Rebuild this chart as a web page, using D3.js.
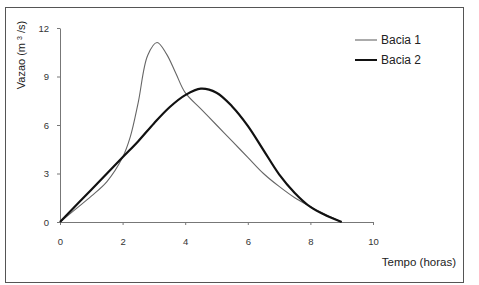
<!DOCTYPE html>
<html>
<head>
<meta charset="utf-8">
<script src="https://cdn.jsdelivr.net/npm/d3@7"></script>
<style>
  body { margin: 0; background: #fff; }
  svg { display: block; }
</style>
</head>
<body>
<div class="chart"></div>
<script>
const width = 479;
const height = 285;

// values
const tempo1 = [0, 0.5, 1, 1.5, 2, 2.25, 2.5, 2.8, 3.1, 3.4, 3.7, 4, 4.5, 5, 5.5, 6, 6.5, 7, 7.5, 8, 8.5, 9];
const bacia1 = [0, 0.8, 1.6, 2.5, 4.0, 5.3, 7.4, 10.3, 11.1, 10.4, 9.2, 8.0, 7.0, 6.0, 5.0, 4.0, 3.0, 2.2, 1.5, 0.95, 0.45, 0];
const tempo2 = [0, 1, 2, 2.5, 3, 3.5, 4, 4.5, 5, 5.5, 6, 6.5, 7, 7.5, 8, 8.5, 9];
const bacia2 = [0, 2, 4, 5.0, 6.1, 7.1, 7.85, 8.25, 8.0, 7.15, 5.95, 4.45, 2.95, 1.8, 0.93, 0.4, 0];
const xTicks = [0, 2, 4, 6, 8, 10];
const yTicks = [0, 3, 6, 9, 12];
const seriesNames = ['Bacia 1', 'Bacia 2'];

const svg = d3.select('div.chart').append('svg')
  .attr('width', width)
  .attr('height', height);

// outer frame
svg.append('rect')
  .attr('x', 5.5)
  .attr('y', 7.5)
  .attr('width', 458)
  .attr('height', 275)
  .attr('fill', 'none')
  .attr('stroke', '#555')
  .attr('stroke-width', 1);

const scaleX = d3.scaleLinear().domain([0, 10]).range([60, 373]);
const scaleY = d3.scaleLinear().domain([0, 12]).range([222, 28]);

const xAxis = d3.axisBottom(scaleX)
  .tickValues(xTicks)
  .tickSize(3)
  .tickPadding(13)
  .tickSizeOuter(0);

const yAxis = d3.axisLeft(scaleY)
  .tickValues(yTicks)
  .tickSize(3)
  .tickPadding(8)
  .tickSizeOuter(0);

const gx = svg.append('g')
  .attr('transform', `translate(0, ${scaleY(0)})`)
  .call(xAxis);

const gy = svg.append('g')
  .attr('transform', `translate(${scaleX(0)}, 0)`)
  .call(yAxis);

[gx, gy].forEach(g => {
  g.select('.domain').attr('stroke', '#777');
  g.selectAll('.tick line').attr('stroke', '#777');
  g.selectAll('.tick text')
    .attr('fill', '#333')
    .style('font-family', 'Liberation Sans, Arial, sans-serif')
    .style('font-size', '9.5px');
});

const line = d3.line()
  .x(d => scaleX(d[0]))
  .y(d => scaleY(d[1]))
  .curve(d3.curveCatmullRom.alpha(0.5));

svg.append('path')
  .datum(tempo1.map((t, i) => [t, bacia1[i]]))
  .attr('d', line)
  .attr('fill', 'none')
  .attr('stroke', '#666')
  .attr('stroke-width', 1.1);

svg.append('path')
  .datum(tempo2.map((t, i) => [t, bacia2[i]]))
  .attr('d', line)
  .attr('fill', 'none')
  .attr('stroke', '#111')
  .attr('stroke-width', 2.2);

// legend
const legend = svg.append('g');
seriesNames.forEach((name, i) => {
  const y = 40 + i * 20;
  legend.append('line')
    .attr('x1', 355)
    .attr('x2', 377)
    .attr('y1', y)
    .attr('y2', y)
    .attr('stroke', i === 0 ? '#666' : '#111')
    .attr('stroke-width', i === 0 ? 1.1 : 2);
  legend.append('text')
    .attr('x', 381)
    .attr('y', y + 4)
    .attr('fill', '#222')
    .style('font-family', 'Liberation Sans, Arial, sans-serif')
    .style('font-size', '12px')
    .text(name);
});

// axis titles
svg.append('text')
  .attr('x', 456)
  .attr('y', 266)
  .attr('text-anchor', 'end')
  .attr('fill', '#222')
  .style('font-family', 'Liberation Sans, Arial, sans-serif')
  .style('font-size', '11.5px')
  .text('Tempo (horas)');

const yTitle = svg.append('text')
  .attr('transform', 'translate(25, 55) rotate(-90)')
  .attr('text-anchor', 'middle')
  .attr('fill', '#222')
  .style('font-family', 'Liberation Sans, Arial, sans-serif')
  .style('font-size', '11px');
yTitle.append('tspan').text('Vazao (m ');
yTitle.append('tspan').attr('baseline-shift', 'super').style('font-size', '7px').text('3');
yTitle.append('tspan').text(' /s)');
</script>
</body>
</html>
